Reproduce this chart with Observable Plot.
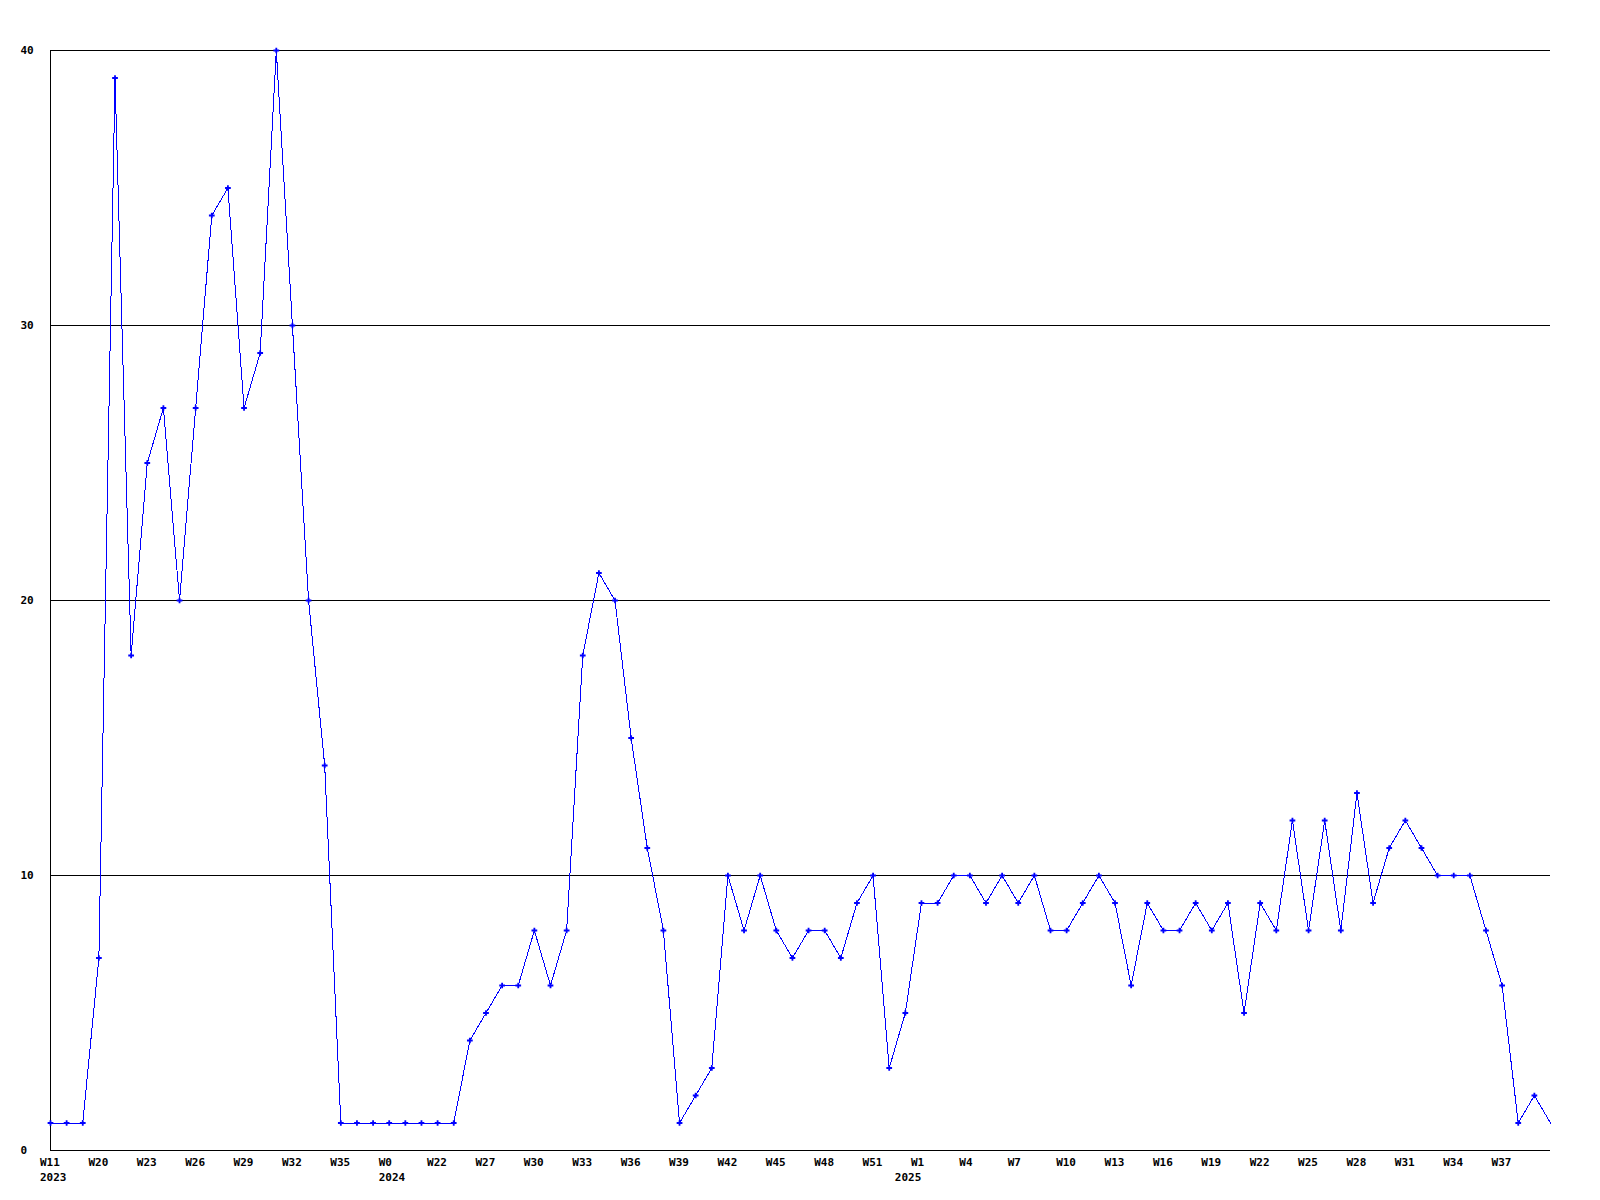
<!DOCTYPE html>
<html>
<head>
<meta charset="utf-8">
<script src="https://cdn.jsdelivr.net/npm/d3@7"></script>
<script src="https://cdn.jsdelivr.net/npm/@observablehq/plot@0.6"></script>
<style>
  html, body { margin: 0; padding: 0; background: #fff; }
  #chart svg { display: block; }
</style>
</head>
<body>
<div id="chart"></div>
<script>
// Weekly counts, one per point (evenly spaced on the x axis)
const values = [
  1,1,1,7,39,18,25,27,20,27,
  34,35,27,29,40,30,20,14,1,1,
  1,1,1,1,1,1,4,5,6,6,
  8,6,8,18,21,20,15,11,8,1,
  2,3,10,8,10,8,7,8,8,7,
  9,10,3,5,9,9,10,10,9,10,
  9,10,8,8,9,10,9,6,9,8,
  8,9,8,9,5,9,8,12,8,12,
  8,13,9,11,12,11,10,10,10,8,
  6,1,2,1
];

// Week tick labels, one every third point
const weekLabels = ["W11","W20","W23","W26","W29","W32","W35","W0","W22","W27",
  "W30","W33","W36","W39","W42","W45","W48","W51","W1","W4",
  "W7","W10","W13","W16","W19","W22","W25","W28","W31","W34","W37"];
const weekStep = 3;

// Year labels and the point index they sit under
const yearLabels = ["2023","2024","2025"];
const yearIndex = [0, 21, 53];

const yTicks = [0, 10, 20, 30, 40];

const data = values.map((v, i) => ({i, v}));
const weekTicks = weekLabels.map((label, k) => ({i: k * weekStep, label}));
const years = yearLabels.map((label, k) => ({i: yearIndex[k], label}));

const font = "'DejaVu Sans Mono', monospace";

const chart = Plot.plot({
  width: 1600,
  height: 1200,
  marginLeft: 50,
  marginRight: 50,
  marginTop: 50,
  marginBottom: 50,
  style: {fontFamily: font, fontSize: "11px", fontWeight: "bold", color: "#000", background: "#fff"},
  x: {type: "linear", domain: [0, values.length - 1], axis: null},
  y: {domain: [0, 40], axis: null},
  marks: [
    Plot.ruleY(yTicks.filter(d => d > 0), {stroke: "#000", strokeWidth: 1, shapeRendering: "crispEdges"}),
    Plot.ruleY([0], {stroke: "#000", strokeWidth: 1.5, shapeRendering: "crispEdges"}),
    Plot.ruleX([0], {stroke: "#000", strokeWidth: 1.5, shapeRendering: "crispEdges"}),
    Plot.line(data, {x: "i", y: "v", stroke: "#0000ff", strokeWidth: 1, shapeRendering: "crispEdges"}),
    Plot.dot(data.slice(0, -1), {x: "i", y: "v", symbol: "plus", r: 2, stroke: "#0000ff", strokeWidth: 1.8}),
    Plot.text(yTicks, {
      x: 0, y: d => d, text: d => String(d),
      textAnchor: "start", dx: -30, lineAnchor: "middle",
      fill: "#000", fontWeight: "bold", fontSize: 11
    }),
    Plot.text(weekTicks, {
      x: "i", text: "label", frameAnchor: "bottom",
      textAnchor: "start", dx: -10.5, dy: 12, lineAnchor: "middle",
      fill: "#000", fontWeight: "bold", fontSize: 11
    }),
    Plot.text(years, {
      x: "i", text: "label", frameAnchor: "bottom",
      textAnchor: "start", dx: -10.5, dy: 27, lineAnchor: "middle",
      fill: "#000", fontWeight: "bold", fontSize: 11
    })
  ]
});

document.getElementById("chart").appendChild(chart);
</script>
</body>
</html>
